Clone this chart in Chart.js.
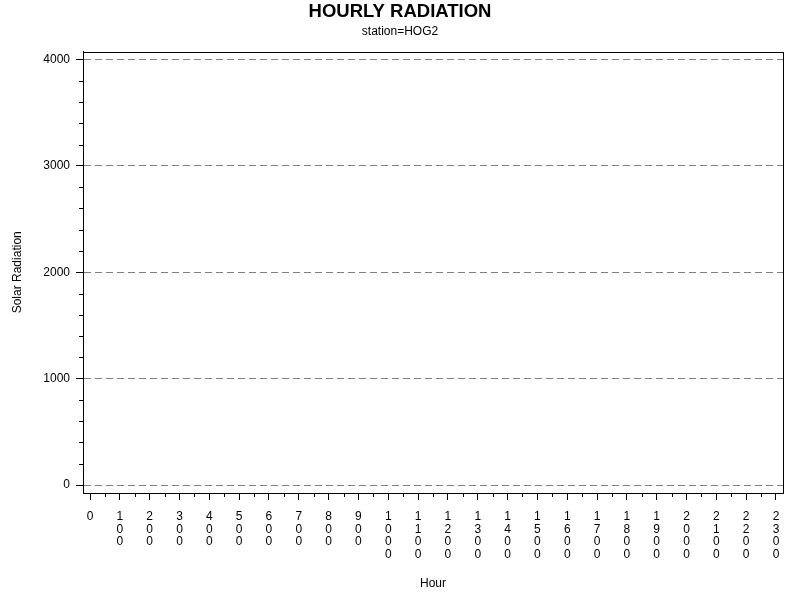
<!DOCTYPE html>
<html>
<head>
<meta charset="utf-8">
<script src="https://cdn.jsdelivr.net/npm/chart.js@4/dist/chart.umd.min.js"></script>
<style>
  html, body { margin: 0; padding: 0; background: #fff; }
  #wrap { width: 800px; height: 600px; }
</style>
</head>
<body>
<div id="wrap"><canvas id="radChart" width="800" height="600"></canvas></div>
<script>
// Hours of the day (x categories) and the measured values - the plot is empty
const hours = [0, 100, 200, 300, 400, 500, 600, 700, 800, 900, 1000, 1100,
  1200, 1300, 1400, 1500, 1600, 1700, 1800, 1900, 2000, 2100, 2200, 2300];
const radiation = [null, null, null, null, null, null, null, null, null, null, null, null,
  null, null, null, null, null, null, null, null, null, null, null, null];
const yTicks = [0, 1000, 2000, 3000, 4000];

const FONT = "'Liberation Sans', Arial, sans-serif";

// frame around the plot plus the short minor tick marks
const framePlugin = {
  id: "frame",
  afterDraw(chart) {
    const ctx = chart.ctx;
    const a = chart.chartArea;
    const xs = chart.scales.x;
    const ys = chart.scales.y;
    ctx.save();
    ctx.strokeStyle = "#000";
    ctx.lineWidth = 1;
    ctx.strokeRect(Math.round(a.left) + 0.5, Math.round(a.top) + 0.5,
      Math.round(a.right - a.left), Math.round(a.bottom - a.top));
    ctx.beginPath();
    for (let i = 0; i < hours.length - 1; i++) {
      const px = Math.round(xs.getPixelForValue(hours[i] + 50)) + 0.5;
      ctx.moveTo(px, a.bottom);
      ctx.lineTo(px, a.bottom + 4);
    }
    for (let i = 0; i < yTicks.length - 1; i++) {
      for (let k = 1; k < 5; k++) {
        const py = Math.round(ys.getPixelForValue(yTicks[i] + k * 200)) + 0.5;
        ctx.moveTo(a.left - 4, py);
        ctx.lineTo(a.left, py);
      }
    }
    ctx.stroke();
    ctx.restore();
  }
};

const ctx = document.getElementById("radChart").getContext("2d");

const radChart = new Chart(ctx, {
  type: "line",
  data: {
    datasets: [
      {
        label: "Solar Radiation",
        data: hours.map((h, i) => ({ x: h, y: radiation[i] })),
        borderColor: "#000",
        pointRadius: 0,
      },
    ],
  },
  options: {
    responsive: false,
    animation: false,
    layout: { padding: { left: 17, right: 17, top: 0, bottom: 0 } },
    plugins: {
      legend: { display: false },
      tooltip: { enabled: false },
      title: {
        display: true,
        text: "HOURLY RADIATION",
        color: "#000",
        font: { family: FONT, size: 18.5, weight: "bold" },
        padding: { top: 1, bottom: 1 },
      },
      subtitle: {
        display: true,
        text: "station=HOG2",
        color: "#000",
        font: { family: FONT, size: 12 },
        padding: { top: 0, bottom: 13 },
      },
    },
    scales: {
      x: {
        type: "linear",
        min: -23.5,
        max: 2323.5,
        afterBuildTicks: (s) => { s.ticks = hours.map((v) => ({ value: v })); },
        afterFit: (s) => { s.height = 107; },
        border: { display: true, color: "#000", width: 1 },
        grid: { drawOnChartArea: false, tickLength: 7, tickColor: "#000" },
        ticks: {
          autoSkip: false,
          maxRotation: 0,
          minRotation: 0,
          padding: 11,
          color: "#000",
          font: { family: FONT, size: 12, lineHeight: 1.03 },
          callback: (v) => String(v).split(""),
        },
        title: {
          display: true,
          text: "Hour",
          color: "#000",
          font: { family: FONT, size: 12 },
          padding: { top: 0, bottom: 9 },
        },
      },
      y: {
        min: -75,
        max: 4075,
        afterBuildTicks: (s) => { s.ticks = yTicks.map((v) => ({ value: v })); },
        afterFit: (s) => { s.width = 66; },
        border: { display: true, color: "#000", width: 1, dash: [7, 4] },
        grid: { color: "#808080", tickLength: 7, tickColor: "#000" },
        ticks: {
          padding: 6,
          color: "#000",
          font: { family: FONT, size: 12 },
          callback: (v) => String(v),
        },
        title: {
          display: true,
          text: "Solar Radiation",
          color: "#000",
          font: { family: FONT, size: 12 },
          padding: { top: -7, bottom: 0 },
        },
      },
    },
  },
  plugins: [framePlugin],
});
</script>
</body>
</html>
